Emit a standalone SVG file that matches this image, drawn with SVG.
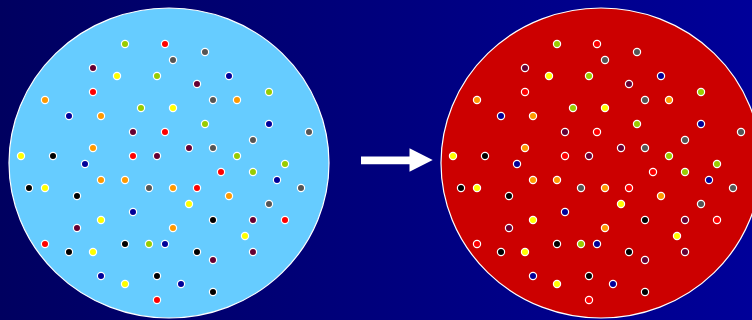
<svg xmlns="http://www.w3.org/2000/svg" xmlns:xlink="http://www.w3.org/1999/xlink" width="752" height="320" viewBox="0 0 752 320">
<style>
.disc{stroke:#ffffff;stroke-width:1.2}
#dots circle{r:3.6px;stroke:#ffffff;stroke-width:1.2}
.yg{fill:#99cc00}.rd{fill:#ff0000}.gy{fill:#555555}.mr{fill:#660033}
.yl{fill:#ffff00}.nv{fill:#000099}.or{fill:#ff9900}.bk{fill:#000000}
</style>
<defs>
<linearGradient id="bg" x1="0" y1="0" x2="1" y2="0">
<stop offset="0" stop-color="#000060"/>
<stop offset="1" stop-color="#000099"/>
</linearGradient>
<g id="dots">
<circle class="yg" cx="125" cy="44"/><circle class="rd" cx="165" cy="44"/>
<circle class="gy" cx="205" cy="52"/><circle class="gy" cx="173" cy="60"/>
<circle class="mr" cx="93" cy="68"/>
<circle class="yl" cx="117" cy="76"/><circle class="yg" cx="157" cy="76"/><circle class="nv" cx="229" cy="76"/>
<circle class="mr" cx="197" cy="84"/>
<circle class="rd" cx="93" cy="92"/><circle class="yg" cx="269" cy="92"/>
<circle class="or" cx="45" cy="100"/><circle class="gy" cx="213" cy="100"/><circle class="or" cx="237" cy="100"/>
<circle class="yg" cx="141" cy="108"/><circle class="yl" cx="173" cy="108"/>
<circle class="nv" cx="69" cy="116"/><circle class="or" cx="101" cy="116"/>
<circle class="yg" cx="205" cy="124"/><circle class="nv" cx="269" cy="124"/>
<circle class="mr" cx="133" cy="132"/><circle class="rd" cx="165" cy="132"/><circle class="gy" cx="309" cy="132"/>
<circle class="gy" cx="253" cy="140"/>
<circle class="or" cx="93" cy="148"/><circle class="mr" cx="189" cy="148"/><circle class="gy" cx="213" cy="148"/>
<circle class="yl" cx="21" cy="156"/><circle class="bk" cx="53" cy="156"/><circle class="rd" cx="133" cy="156"/><circle class="mr" cx="157" cy="156"/><circle class="yg" cx="237" cy="156"/>
<circle class="nv" cx="85" cy="164"/><circle class="yg" cx="285" cy="164"/>
<circle class="rd" cx="221" cy="172"/><circle class="yg" cx="253" cy="172"/>
<circle class="or" cx="101" cy="180"/><circle class="or" cx="125" cy="180"/><circle class="nv" cx="277" cy="180"/>
<circle class="bk" cx="29" cy="188"/><circle class="yl" cx="45" cy="188"/><circle class="gy" cx="149" cy="188"/><circle class="or" cx="173" cy="188"/><circle class="rd" cx="197" cy="188"/><circle class="gy" cx="301" cy="188"/>
<circle class="bk" cx="77" cy="196"/><circle class="or" cx="229" cy="196"/>
<circle class="yl" cx="189" cy="204"/><circle class="gy" cx="269" cy="204"/>
<circle class="nv" cx="133" cy="212"/>
<circle class="yl" cx="101" cy="220"/><circle class="bk" cx="213" cy="220"/><circle class="mr" cx="253" cy="220"/><circle class="rd" cx="285" cy="220"/>
<circle class="mr" cx="77" cy="228"/><circle class="or" cx="173" cy="228"/>
<circle class="yl" cx="245" cy="236"/>
<circle class="rd" cx="45" cy="244"/><circle class="bk" cx="125" cy="244"/><circle class="yg" cx="149" cy="244"/><circle class="nv" cx="165" cy="244"/>
<circle class="bk" cx="69" cy="252"/><circle class="yl" cx="93" cy="252"/><circle class="bk" cx="197" cy="252"/><circle class="mr" cx="253" cy="252"/>
<circle class="mr" cx="213" cy="260"/>
<circle class="nv" cx="101" cy="276"/><circle class="bk" cx="157" cy="276"/>
<circle class="yl" cx="125" cy="284"/><circle class="nv" cx="181" cy="284"/>
<circle class="bk" cx="213" cy="292"/>
<circle class="rd" cx="157" cy="300"/>
</g>
</defs>
<rect width="752" height="320" fill="url(#bg)"/>
<g id="before">
<ellipse class="disc" cx="169" cy="163" rx="160" ry="155" fill="#66ccff"/>
<use xlink:href="#dots" href="#dots"/>
</g>
<g id="after">
<ellipse class="disc" cx="601" cy="163" rx="160" ry="155" fill="#cc0000"/>
<use xlink:href="#dots" href="#dots" transform="translate(432,0)"/>
</g>
<g id="connectors">
<polygon points="361,156.5 409.5,156.5 409.5,148.3 432.7,160 409.5,171.7 409.5,164.3 361,164.3" fill="#ffffff"/>
</g>
</svg>
